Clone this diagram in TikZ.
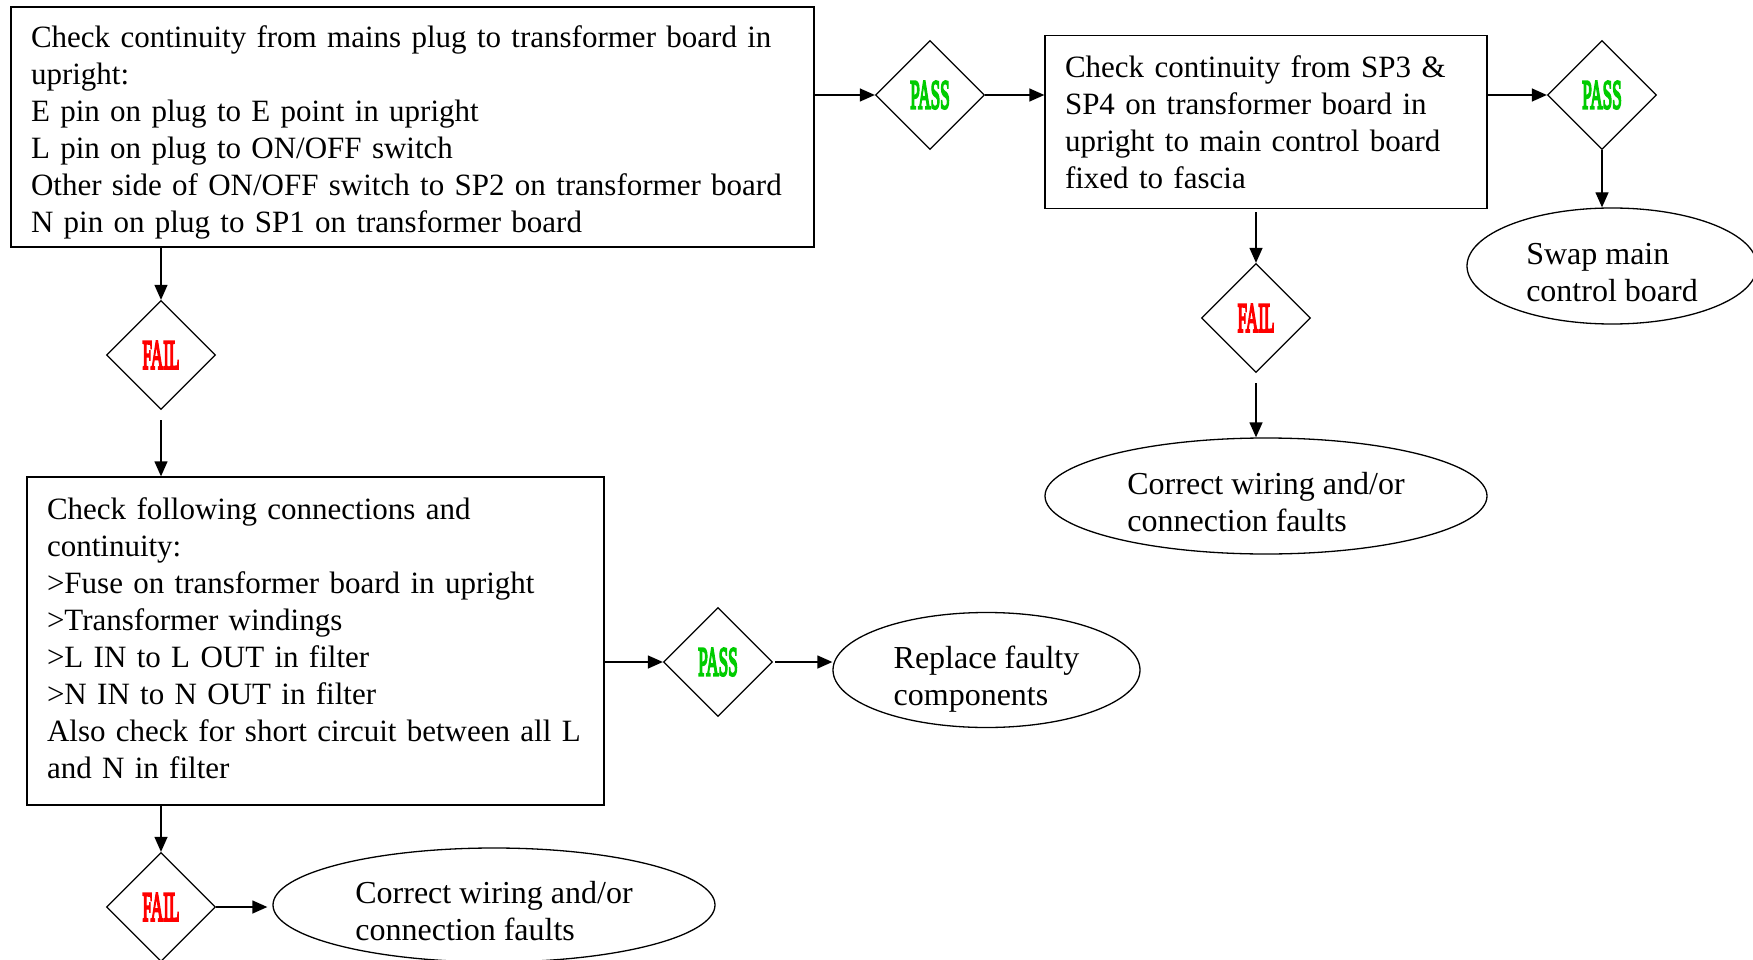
\documentclass[tikz,border=0pt]{standalone}
\usepackage{fontspec}
\setmainfont{Liberation Serif}
\newfontfamily\verdictfont[FakeBold=6]{Liberation Serif}
\usepackage{xcolor}
\usepackage{tikz}
\usetikzlibrary{shapes,arrows.meta,positioning}
\definecolor{passgreen}{RGB}{0, 204, 0}
\definecolor{failred}{RGB}{255, 0, 0}
\tikzstyle{decision} = [diamond, draw, aspect=1, minimum width=109pt, minimum height=109pt, inner sep=0pt, font=\fontsize{41}{41}\selectfont\verdictfont]
\tikzstyle{passbox} = [decision, text=passgreen]
\tikzstyle{failbox} = [decision, text=failred]
\tikzstyle{process} = [rectangle, draw, align=left, inner xsep=20pt, inner ysep=0pt, text height=42.5pt, font=\fontsize{31}{37}\selectfont]
\tikzstyle{outcome} = [ellipse, draw, align=left, inner sep=0pt, text height=70pt, text depth=0pt, font=\fontsize{32}{37}\selectfont]
\tikzstyle{line} = [draw, -{Triangle[length=15pt, width=13pt]}]

\begin{document}
\begin{tikzpicture}[line width=1.3pt]
    \useasboundingbox (0,0) rectangle (1753pt,-960pt);
    \clip (0,0) rectangle (1753pt,-960pt);
    \node [process, text width=763pt, text height=41pt, text depth=199pt] (mains) at (412.5pt,-127pt) {Check continuity from mains plug to transformer board in\\ upright:\\ E pin on plug to E point in upright\\ L pin on plug to ON/OFF switch\\ Other side of ON/OFF switch to SP2 on transformer board\\ N pin on plug to SP1 on transformer board};
    \node [passbox, right of=mains, node distance=517.5pt, yshift=32pt] (pass1) {\scalebox{0.42}[1]{PASS}};
    \node [process, text width=402pt, text depth=130.5pt, right of=pass1, node distance=336pt, yshift=-27pt] (sp) {Check continuity from SP3 \&\\ SP4 on transformer board in\\ upright to main control board\\ fixed to fascia};
    \node [passbox, right of=sp, node distance=336pt, yshift=27pt] (pass3) {\scalebox{0.42}[1]{PASS}};
    \node [outcome, minimum width=290pt, minimum height=116pt, below of=pass3, node distance=171pt, xshift=10pt] (swap) {Swap main\\ control board};
    \node [failbox, below of=sp, node distance=196pt, xshift=-10pt] (fail2) {\scalebox{0.42}[1]{FAIL}};
    \node [outcome, minimum width=442pt, minimum height=116pt, below of=fail2, node distance=178pt, xshift=10pt] (wiring1) {Correct wiring and/or\\ connection faults};
    \node [failbox, below of=mains, node distance=228pt, xshift=-251.5pt] (fail1) {\scalebox{0.42}[1]{FAIL}};
    \node [process, text width=537pt, text depth=285.5pt, below of=fail1, node distance=286pt, xshift=154.5pt] (filter) {Check following connections and\\ continuity:\\ >Fuse on transformer board in upright\\ >Transformer windings\\ >L IN to L OUT in filter\\ >N IN to N OUT in filter\\ Also check for short circuit between all L\\ and N in filter};
    \node [passbox, right of=filter, node distance=402.5pt, yshift=-21pt] (pass2) {\scalebox{0.42}[1]{PASS}};
    \node [outcome, minimum width=307pt, minimum height=115pt, right of=pass2, node distance=268.5pt, yshift=-8pt] (replace) {Replace faulty\\ components};
    \node [failbox, below of=filter, node distance=266pt, xshift=-154.5pt] (fail3) {\scalebox{0.42}[1]{FAIL}};
    \node [outcome, minimum width=442pt, minimum height=114pt, right of=fail3, node distance=333pt, yshift=2pt] (wiring2) {Correct wiring and/or\\ connection faults};

    \path [line] (mains.east |- pass1.west) -- (pass1.west);
    \path [line] (pass1.east) -- (pass1.east -| sp.west);
    \path [line] (sp.east |- pass3.west) -- (pass3.west);
    \path [line] (pass3.south) -- (pass3.south |- swap.north);
    \path [line, shorten <=3pt] (sp.south -| fail2.north) -- (fail2.north);
    \path [line, shorten <=10pt] (fail2.south) -- (fail2.south |- wiring1.north);
    \path [line] (mains.south -| fail1.north) -- (fail1.north);
    \path [line, shorten <=10pt] (fail1.south) -- (fail1.south |- filter.north);
    \path [line] (filter.east |- pass2.west) -- (pass2.west);
    \path [line, shorten <=2pt] (pass2.east) -- (pass2.east -| replace.west);
    \path [line] (filter.south -| fail3.north) -- (fail3.north);
    \path [line] (fail3.east) -- ([xshift=-5pt]fail3.east -| wiring2.west);
\end{tikzpicture}
\end{document}
